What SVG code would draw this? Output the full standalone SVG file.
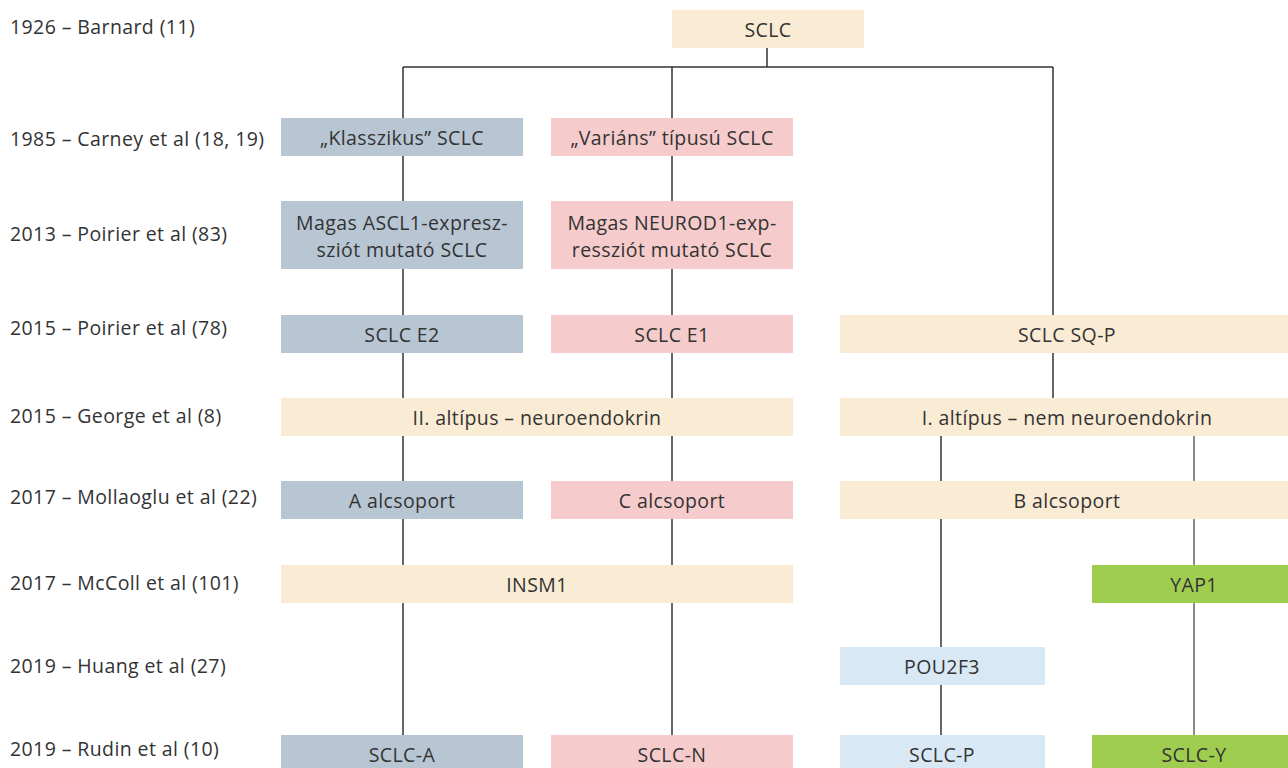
<svg xmlns="http://www.w3.org/2000/svg" width="1288" height="768" viewBox="0 0 1288 768">
<style>
text{font-family:"Open Sans","Liberation Sans",Arial,sans-serif;font-size:19.5px;letter-spacing:0.4px;fill:#333}
.c{text-anchor:middle}
.beige{fill:#FAEBD4}
.blue{fill:#B8C6D3}
.pink{fill:#F5CBCB}
.lblue{fill:#D9E8F5}
.green{fill:#9FCD50}
.ln{stroke:#333;stroke-width:1.5;fill:none}
</style>
<rect width="1288" height="768" fill="#fff"/>
<g id="years">
<text x="10" y="34">1926 – Barnard (11)</text>
<text x="10" y="146">1985 – Carney et al (18, 19)</text>
<text x="10" y="241">2013 – Poirier et al (83)</text>
<text x="10" y="335">2015 – Poirier et al (78)</text>
<text x="10" y="423">2015 – George et al (8)</text>
<text x="10" y="504">2017 – Mollaoglu et al (22)</text>
<text x="10" y="590">2017 – McColl et al (101)</text>
<text x="10" y="673">2019 – Huang et al (27)</text>
<text x="10" y="756">2019 – Rudin et al (10)</text>
</g>
<g id="connectors">
<path class="ln" d="M767 48V67M403 67H1053M403 67V118M672 67V118M1053 67V315"/>
<path class="ln" d="M403 156V201M403 269V315M403 353V398M403 436V481M403 519V565M403 603V735"/>
<path class="ln" d="M672 156V201M672 269V315M672 353V398M672 436V481M672 519V735"/>
<path class="ln" d="M1053 353V398M941 436V481M941 519V647M941 685V735"/>
<path class="ln" d="M1194 436V481M1194 519V565M1194 603V735" style="stroke:#666"/>
</g>
<g id="n-sclc"><rect class="beige" x="672" y="10" width="192" height="38"/><text class="c" x="768" y="37">SCLC</text></g>
<g id="n-klasszikus"><rect class="blue" x="281" y="118" width="242" height="38"/><text class="c" x="402" y="145">„Klasszikus” SCLC</text></g>
<g id="n-varians"><rect class="pink" x="551" y="118" width="242" height="38"/><text class="c" x="672" y="145">„Variáns” típusú SCLC</text></g>
<g id="n-ascl1"><rect class="blue" x="281" y="201" width="242" height="68"/><text class="c" x="402" y="230">Magas ASCL1-expresz-</text><text class="c" x="402" y="257">sziót mutató SCLC</text></g>
<g id="n-neurod1"><rect class="pink" x="551" y="201" width="242" height="68"/><text class="c" x="672" y="230">Magas NEUROD1-exp-</text><text class="c" x="672" y="257">ressziót mutató SCLC</text></g>
<g id="n-e2"><rect class="blue" x="281" y="315" width="242" height="38"/><text class="c" x="402" y="342">SCLC E2</text></g>
<g id="n-e1"><rect class="pink" x="551" y="315" width="242" height="38"/><text class="c" x="672" y="342">SCLC E1</text></g>
<g id="n-sqp"><rect class="beige" x="840" y="315" width="456" height="38"/><text class="c" x="1067" y="342">SCLC SQ-P</text></g>
<g id="n-type2"><rect class="beige" x="281" y="398" width="512" height="38"/><text class="c" x="537" y="425">II. altípus – neuroendokrin</text></g>
<g id="n-type1"><rect class="beige" x="840" y="398" width="456" height="38"/><text class="c" x="1067" y="425">I. altípus – nem neuroendokrin</text></g>
<g id="n-a"><rect class="blue" x="281" y="481" width="242" height="38"/><text class="c" x="402" y="508">A alcsoport</text></g>
<g id="n-c"><rect class="pink" x="551" y="481" width="242" height="38"/><text class="c" x="672" y="508">C alcsoport</text></g>
<g id="n-b"><rect class="beige" x="840" y="481" width="456" height="38"/><text class="c" x="1067" y="508">B alcsoport</text></g>
<g id="n-insm1"><rect class="beige" x="281" y="565" width="512" height="38"/><text class="c" x="537" y="592">INSM1</text></g>
<g id="n-yap1"><rect class="green" x="1092" y="565" width="204" height="38"/><text class="c" x="1194" y="592">YAP1</text></g>
<g id="n-pou2f3"><rect class="lblue" x="840" y="647" width="205" height="38"/><text class="c" x="942" y="674">POU2F3</text></g>
<g id="n-sclca"><rect class="blue" x="281" y="735" width="242" height="38"/><text class="c" x="402" y="762">SCLC-A</text></g>
<g id="n-sclcn"><rect class="pink" x="551" y="735" width="242" height="38"/><text class="c" x="672" y="762">SCLC-N</text></g>
<g id="n-sclcp"><rect class="lblue" x="840" y="735" width="205" height="38"/><text class="c" x="942" y="762">SCLC-P</text></g>
<g id="n-sclcy"><rect class="green" x="1092" y="735" width="204" height="38"/><text class="c" x="1194" y="762">SCLC-Y</text></g>
</svg>
